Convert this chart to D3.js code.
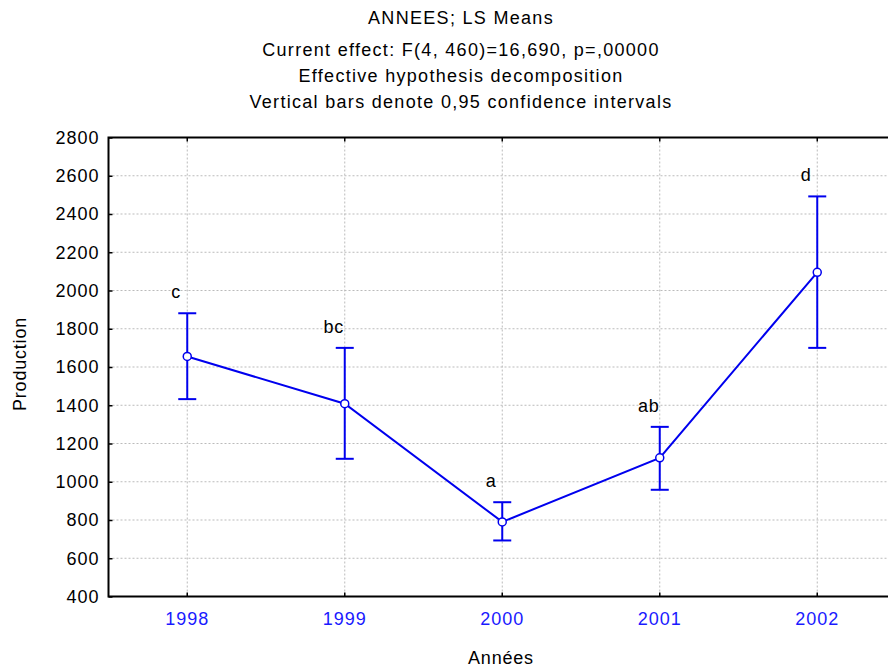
<!DOCTYPE html>
<html lang="fr">
<head>
  <meta charset="utf-8">
  <title>ANNEES; LS Means</title>
  <style>
    html,body{margin:0;background:#fff}
    svg{display:block;font-family:"Liberation Sans",Arial,sans-serif}
    .grid line{stroke:#bbb;stroke-dasharray:2,2;stroke-width:1}
    .tick text{font-size:18px;letter-spacing:1px}
    .title{font-size:18px;letter-spacing:1.3px}
    .lab{font-size:18px;letter-spacing:0.8px}
  </style>
  <script src="https://d3js.org/d3.v7.min.js"></script>
</head>
<body>
<svg width="888" height="671"></svg>
<script>
  // LS means par année, avec intervalles de confiance à 95 %
  const years  = ['1998','1999','2000','2001','2002'];
  const means  = [1655, 1408, 790, 1125, 2095];
  const lower  = [1432, 1120, 693, 958, 1700];
  const upper  = [1881, 1700, 893, 1287, 2492];
  const groups = ['c','bc','a','ab','d'];
  const yTicks = [400,600,800,1000,1200,1400,1600,1800,2000,2200,2400,2600,2800];
  const titles = ['ANNEES; LS Means',
                  'Current effect: F(4, 460)=16,690, p=,00000',
                  'Effective hypothesis decomposition',
                  'Vertical bars denote 0,95 confidence intervals'];

  const svg=d3.select('svg');
  const m={left:108.5,top:137.5,bottom:596.5};
  const bandW=157.5;
  const x=d3.scaleBand().domain(years).range([m.left,m.left+bandW*years.length]);
  const y=d3.scaleLinear().domain([400,2800]).range([m.bottom,m.top]);
  const cx=d=>x(d)+x.bandwidth()/2;

  // titres
  svg.append('g').selectAll('text').data(titles).enter().append('text')
     .attr('class','title')
     .attr('x',461).attr('y',(d,i)=>i===0?24:56+(i-1)*26)
     .attr('text-anchor','middle').text(d=>d);

  // grille
  const grid=svg.append('g').attr('class','grid');
  grid.selectAll('.h').data(yTicks.slice(1,-1)).enter().append('line')
      .attr('x1',m.left).attr('x2',888).attr('y1',d=>y(d)).attr('y2',d=>y(d));
  grid.selectAll('.v').data(years).enter().append('line')
      .attr('x1',cx).attr('x2',cx).attr('y1',m.top).attr('y2',m.bottom);

  // axes
  const yAxis=svg.append('g').attr('transform',`translate(${m.left},0)`)
     .call(d3.axisLeft(y).tickValues(yTicks).tickFormat(d3.format('d'))
             .tickSizeInner(-4).tickSizeOuter(0).tickPadding(9));
  yAxis.select('.domain').remove();
  yAxis.selectAll('.tick line').attr('stroke','#000').attr('stroke-width',1.5);

  const xAxis=svg.append('g').attr('transform',`translate(0,${m.bottom})`)
     .call(d3.axisBottom(x).tickSizeInner(-4).tickSizeOuter(0).tickPadding(16));
  xAxis.select('.domain').remove();
  xAxis.selectAll('.tick line').attr('stroke','#000').attr('stroke-width',1.5);
  xAxis.selectAll('.tick text').attr('fill','#1a1aff');
  svg.append('g').selectAll('line').data(years).enter().append('line')
     .attr('x1',cx).attr('x2',cx).attr('y1',m.top).attr('y2',m.top+4)
     .attr('stroke','#000').attr('stroke-width',1.5);

  // cadre
  svg.append('path')
     .attr('d',`M888,${m.top}H${m.left}V${m.bottom}H888`)
     .attr('fill','none').attr('stroke','#000').attr('stroke-width',2);

  // titres des axes
  svg.append('text').attr('class','lab').attr('x',501).attr('y',664)
     .attr('text-anchor','middle').text('Années');
  svg.append('text').attr('class','lab').attr('transform','translate(26,364) rotate(-90)')
     .attr('text-anchor','middle').text('Production');

  const blue='#0000ee';
  const idx=d3.range(years.length);

  // barres d'erreur
  const eb=svg.append('g').attr('stroke',blue).attr('stroke-width',2);
  eb.selectAll('.v').data(idx).enter().append('line')
    .attr('x1',i=>cx(years[i])).attr('x2',i=>cx(years[i]))
    .attr('y1',i=>y(lower[i])).attr('y2',i=>y(upper[i]));
  eb.selectAll('.u').data(idx).enter().append('line')
    .attr('x1',i=>cx(years[i])-9).attr('x2',i=>cx(years[i])+9)
    .attr('y1',i=>y(upper[i])).attr('y2',i=>y(upper[i]));
  eb.selectAll('.l').data(idx).enter().append('line')
    .attr('x1',i=>cx(years[i])-9).attr('x2',i=>cx(years[i])+9)
    .attr('y1',i=>y(lower[i])).attr('y2',i=>y(lower[i]));

  // ligne des moyennes
  svg.append('path').datum(idx)
     .attr('d',d3.line().x(i=>cx(years[i])).y(i=>y(means[i])))
     .attr('fill','none').attr('stroke',blue).attr('stroke-width',2);
  svg.append('g').selectAll('circle').data(idx).enter().append('circle')
     .attr('cx',i=>cx(years[i])).attr('cy',i=>y(means[i])).attr('r',4)
     .attr('fill','#fff').attr('stroke',blue).attr('stroke-width',1.5);

  // lettres des groupes homogènes
  svg.append('g').selectAll('text').data(idx).enter().append('text')
     .attr('class','lab')
     .attr('x',i=>cx(years[i])-11).attr('y',i=>y(upper[i])-15)
     .attr('text-anchor','middle').text(i=>groups[i]);
</script>
</body>
</html>
